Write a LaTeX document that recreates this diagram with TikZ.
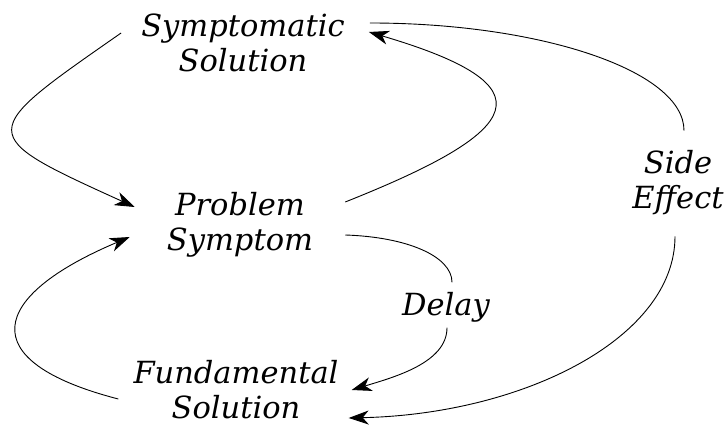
\documentclass[tikz,border=0pt]{standalone}
\usepackage{fontspec}
\setmainfont{DejaVu Serif}
\usepackage{tikz}
\usetikzlibrary{positioning,arrows.meta}
\tikzset{
  varnode/.style={font=\fontsize{30.5}{35}\selectfont\itshape, align=center,
                  inner sep=0pt},
  tagnode/.style={varnode, fill=white},
  looparrow/.style={-{Stealth[length=20pt, width=14pt, inset=6pt]},
                    line width=0.9pt},
}
\begin{document}
\begin{tikzpicture}[x=1pt, y=1pt]
\useasboundingbox (0,0) rectangle (724,428);
%% Nodes
\node[varnode] (SS) at (243,385.5) {Symptomatic\\Solution};
\node[varnode] (PS) at (240,203)   {Problem\\Symptom};
\node[varnode] (FS) at (236,38)    {Fundamental\\Solution};
\node[tagnode] (SE) at (678,245)   {Side\\Effect};
\node[tagnode] (DL) at (446,120.5) {Delay};
%% Edges
\draw[looparrow] ([shift={(-20,9.5)}]SS.west)
  .. controls +(-145,-101) and +(-161,73) .. ([shift={(-32,18)}]PS.west);
\draw[looparrow] ([shift={(32,23)}]PS.east)
  .. controls +(181,72) and +(183,-54) .. ([shift={(24,10.5)}]SS.east);
\draw[looparrow] ([shift={(-15,-9)}]FS.west)
  .. controls +(-147,38) and +(-140,-59) .. ([shift={(-37,-12)}]PS.west);
%% Edges through labels
\draw[looparrow] ([shift={(32,-10)}]PS.east)
  .. controls +(62,-2) and +(0,26) .. ([shift={(6,10)}]DL.north)
  ([shift={(1,-5)}]DL.south)
  .. controls +(0,-35) and +(43,13) .. ([shift={(13,0)}]FS.east);
\draw[looparrow] ([shift={(25,19.5)}]SS.east)
  .. controls +(170,0) and +(0,60) .. ([shift={(6,20)}]SE.north)
  ([shift={(-3,-21)}]SE.south)
  .. controls +(0,-101) and +(176,4) .. ([shift={(10,-28)}]FS.east);
\end{tikzpicture}
\end{document}
